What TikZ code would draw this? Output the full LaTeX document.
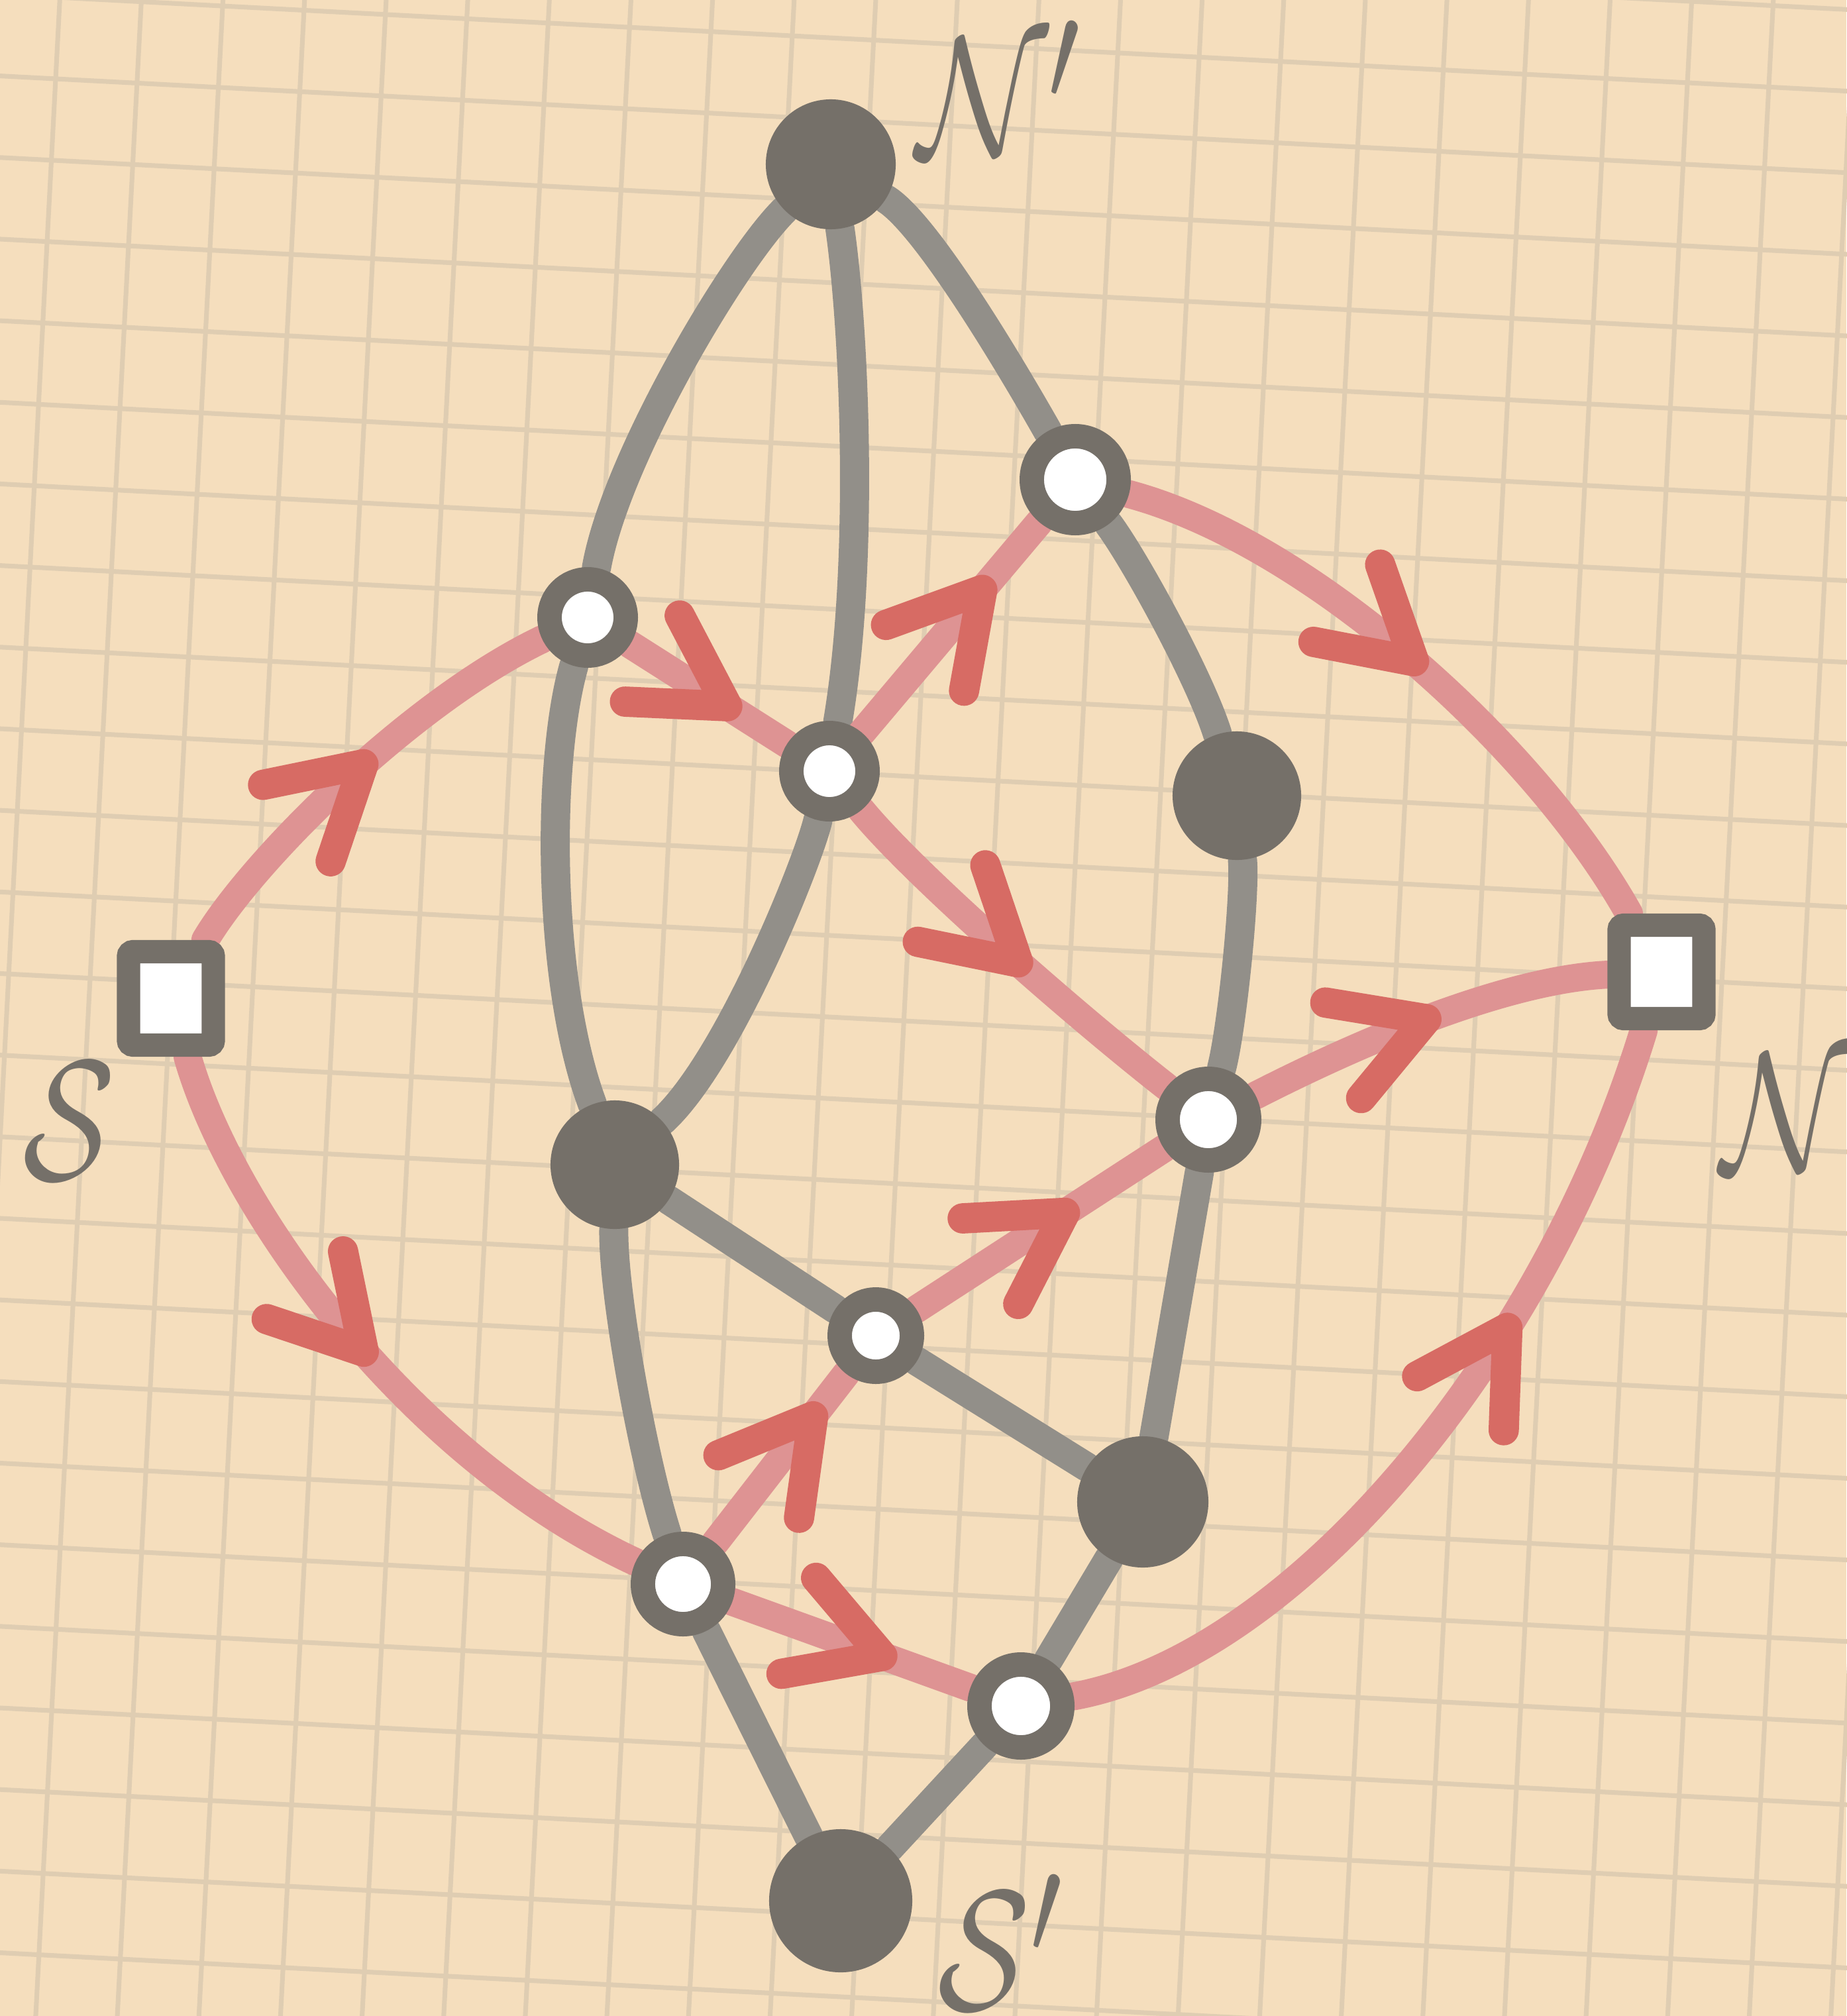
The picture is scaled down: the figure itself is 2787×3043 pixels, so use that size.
\documentclass[tikz,border=0pt]{standalone}
\usetikzlibrary{decorations.markings}
\definecolor{bgc}{HTML}{F5DEBD}
\definecolor{gridc}{HTML}{DFCDB2}
\definecolor{dark}{HTML}{757069}
\definecolor{grayedge}{HTML}{928F89}
\definecolor{pinkedge}{HTML}{DE9393}
\definecolor{arrowred}{HTML}{D76B64}
\pgfdeclarelayer{back}
\pgfdeclarelayer{mid}
\pgfsetlayers{back,mid,main}
\newcommand{\biglab}[1]{{\Huge\scalebox{2.35}[2.95]{$#1$}}}
\newcommand{\lowprime}{\raisebox{-1pt}{$^{\prime}$}}
\begin{document}
\begin{tikzpicture}[x=0.01cm,y=-0.01cm,
  gedge/.style={draw=grayedge, line width=12.5pt, line cap=round},
  pedge/.style={draw=pinkedge, line width=12pt, line cap=round},
  opennode/.style={circle, draw=dark, fill=white, line width=10.5pt, minimum size=1.15cm, inner sep=0pt},
  darknode/.style={circle, fill=dark, minimum size=1.96cm, inner sep=0pt},
  sqnode/.style={rectangle, draw=dark, fill=white, line width=10pt, minimum width=1.28cm, minimum height=1.41cm, rounded corners=2pt, inner sep=0pt},
  lab/.style={text=dark, inner sep=0pt, anchor=base west},
  chev/.style={postaction={decorate, decoration={markings, mark=at position #1 with {\draw[arrowred, line width=13pt, line cap=round, line join=round] (-134,-77) -- (0,0) -- (-134,77);}}}}
]
\useasboundingbox (0,0) rectangle (2787,3043);
\begin{pgfonlayer}{back}
\fill[bgc] (0,0) rectangle (2787,3043);
\begin{scope}[shift={(84,119)}, rotate=-3]
\foreach \i in {-4,...,26} \draw[gridc, line width=2pt] (\i*123,-400) -- (\i*123,3400);
\foreach \j in {-4,...,28} \draw[gridc, line width=2pt] (-400,\j*123) -- (3200,\j*123);
\end{scope}
\end{pgfonlayer}

\node[darknode] (Np) at (1254,248) {};
\node[opennode] (A) at (887,932) {};
\node[opennode, minimum size=1.31cm] (B) at (1623,724) {};
\node[opennode] (C) at (1252,1164) {};
\node[darknode, minimum size=1.94cm] (H) at (1867,1201) {};
\node[sqnode] (S) at (258,1507) {};
\node[sqnode] (N) at (2508,1467) {};
\node[darknode, minimum size=1.94cm] (I) at (928,1758) {};
\node[opennode, minimum size=1.23cm] (D) at (1824,1690) {};
\node[opennode, minimum size=1.09cm] (E) at (1322,2016) {};
\node[darknode, minimum size=1.98cm] (J) at (1725,2267) {};
\node[opennode, minimum size=1.21cm] (F) at (1031,2391) {};
\node[opennode, minimum size=1.25cm] (G) at (1541,2575) {};
\node[darknode, minimum size=2.16cm] (Sp) at (1269,2869) {};

\node[lab] (lNp) at (1383,235) {\biglab{\mathcal{N}\lowprime}};
\node[lab] (lS) at (34,1780) {\biglab{\mathcal{S}}};
\node[lab] (lN) at (2597,1767) {\biglab{\mathcal{N}}};
\node[lab] (lSp) at (1415,3033) {\biglab{\mathcal{S}\lowprime}};

\begin{pgfonlayer}{mid}
\draw[gedge] (Np) .. controls (1110,390) and (930,690) .. (A);
\draw[gedge] (Np) .. controls (1290,500) and (1305,850) .. (C);
\draw[gedge] (Np) .. controls (1400,340) and (1530,560) .. (B);
\draw[gedge] (A) .. controls (825,1150) and (825,1480) .. (I);
\draw[gedge] (C) .. controls (1220,1300) and (1100,1600) .. (I);
\draw[gedge] (B) .. controls (1710,840) and (1810,1020) .. (H);
\draw[gedge] (H) .. controls (1880,1350) and (1860,1550) .. (D);
\draw[gedge] (I) -- (E);
\draw[gedge] (E) -- (J);
\draw[gedge] (I) .. controls (925,1950) and (970,2200) .. (F);
\draw[gedge] (D) -- (J);
\draw[gedge] (J) -- (G);
\draw[gedge] (F) -- (Sp);
\draw[gedge] (G) -- (Sp);

\draw[pedge, chev=0.52] (S) .. controls (380,1300) and (620,1060) .. (A);
\draw[pedge, chev=0.62] (A) -- (C);
\draw[pedge, chev=0.68] (C) -- (B);
\draw[pedge, chev=0.5] (B) .. controls (1980,820) and (2320,1130) .. (N);
\draw[pedge, chev=0.53] (C) .. controls (1380,1320) and (1620,1530) .. (D);
\draw[pedge, chev=0.5] (D) .. controls (2000,1600) and (2250,1480) .. (N);
\draw[pedge, chev=0.5] (S) .. controls (350,1830) and (620,2200) .. (F);
\draw[pedge, chev=0.75] (F) -- (E);
\draw[pedge, chev=0.6] (E) -- (D);
\draw[pedge, chev=0.63] (F) -- (G);
\draw[pedge, chev=0.64] (G) .. controls (1950,2500) and (2330,2050) .. (N);
\end{pgfonlayer}
\end{tikzpicture}
\end{document}
